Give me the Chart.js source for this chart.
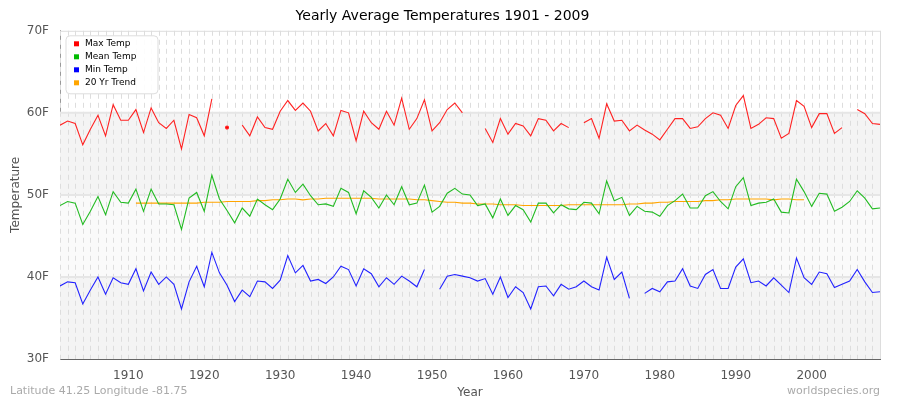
<!DOCTYPE html>
<html><head><meta charset="utf-8">
<script src="https://cdn.jsdelivr.net/npm/chart.js@4.4.1/dist/chart.umd.min.js"></script>
<style>html,body{margin:0;padding:0;background:#fff}#w{width:900px;height:400px}</style>
</head><body><div id="w"><canvas id="c"></canvas></div>
<script>
const years = [];
for (let y = 1901; y <= 2009; y++) years.push(y);
const xTicks = [1910,1920,1930,1940,1950,1960,1970,1980,1990,2000];
const yTicks = [30,40,50,60,70];
const maxTemp = [
58.5,59.0,58.7,56.1,58.0,59.7,57.2,61.0,59.1,59.1,
60.4,57.6,60.6,58.8,58.1,59.1,55.6,59.8,59.4,57.2,
61.7,null,58.2,null,58.5,57.2,59.5,58.2,58.0,60.2,
61.5,60.3,61.2,60.2,57.8,58.7,57.2,60.3,60.0,56.6,
60.2,58.8,58.0,60.2,58.5,61.8,58.0,59.3,61.6,57.8,
58.8,60.4,61.2,60.0,null,null,58.1,56.4,59.3,57.4,
58.7,58.4,57.2,59.3,59.1,57.8,58.7,58.2,null,58.8,
59.3,56.9,61.1,59.0,59.1,57.8,58.5,57.9,57.4,56.7,
58.0,59.3,59.3,58.1,58.3,59.3,60.0,59.7,58.1,60.9,
62.1,58.1,58.6,59.4,59.3,56.9,57.5,61.5,60.8,58.2,
59.9,59.9,57.5,58.2,null,60.4,59.9,58.7,58.6];
const meanTemp = [
48.7,49.2,49.0,46.4,48.0,49.8,47.6,50.4,49.1,49.0,
50.7,48.0,50.7,48.9,48.9,48.8,45.8,49.6,50.3,48.0,
52.4,49.5,48.1,46.6,48.4,47.4,49.5,48.8,48.2,49.5,
51.9,50.3,51.3,49.9,48.8,48.9,48.6,50.8,50.3,47.7,
50.5,49.7,48.4,50.0,48.8,51.0,48.8,49.0,51.2,47.9,
48.6,50.2,50.8,50.1,50.0,48.7,48.9,47.2,49.5,47.5,
48.7,48.2,46.7,49.0,49.0,47.8,48.8,48.3,48.2,49.1,
49.0,47.7,51.7,49.3,49.7,47.5,48.6,48.0,47.9,47.4,
48.7,49.3,50.1,48.4,48.4,49.9,50.4,49.2,48.3,51.0,
52.1,48.7,49.0,49.1,49.5,47.9,47.8,51.9,50.4,48.6,
50.2,50.1,48.0,48.5,49.2,50.5,49.6,48.3,48.4];
const minTemp = [
38.9,39.4,39.3,36.7,38.4,40.0,37.9,39.9,39.3,39.1,
41.0,38.3,40.6,39.1,40.0,39.1,36.1,39.4,41.3,38.8,
43.0,40.5,39.0,37.0,38.4,37.6,39.5,39.4,38.6,39.6,
42.6,40.5,41.4,39.5,39.7,39.2,40.0,41.3,40.9,38.9,
41.0,40.4,38.8,39.9,39.1,40.1,39.5,38.8,40.9,null,
38.5,40.1,40.3,40.1,39.9,39.5,39.8,37.9,40.0,37.5,
38.8,38.1,36.1,38.8,38.9,37.7,39.1,38.5,38.8,39.5,
38.8,38.4,42.4,39.7,40.6,37.4,null,38.0,38.6,38.2,
39.4,39.5,41.0,38.9,38.6,40.3,40.9,38.6,38.6,41.2,
42.2,39.3,39.5,38.9,39.9,39.0,38.1,42.3,39.9,39.1,
40.6,40.4,38.7,39.1,39.5,40.9,39.4,38.1,38.2];
const trend = [
null,null,null,null,null,null,null,null,null,null,
49.0,49.0,49.0,49.0,49.0,49.0,49.0,49.0,49.0,49.1,
49.1,49.1,49.2,49.2,49.2,49.2,49.3,49.3,49.4,49.4,
49.5,49.5,49.4,49.5,49.5,49.6,49.6,49.6,49.6,49.6,
49.6,49.6,49.5,49.5,49.5,49.5,49.5,49.4,49.4,49.3,
49.2,49.1,49.1,49.0,49.0,48.9,48.9,48.9,48.8,48.8,
48.8,48.7,48.7,48.7,48.7,48.7,48.7,48.8,48.8,48.8,
48.8,48.8,48.8,48.8,48.8,48.9,48.9,49.0,49.0,49.1,
49.1,49.2,49.2,49.2,49.2,49.3,49.3,49.4,49.4,49.5,
49.5,49.5,49.5,49.5,49.4,49.5,49.5,49.4,49.4,null,
null,null,null,null,null,null,null,null,null];

const toPts = arr => arr.map((v,i)=>({x:years[i], y:v}));

const bg = {
  id:'bg',
  beforeDatasetsDraw(ch){
    const {ctx, chartArea:a, scales:{x,y}} = ch;
    ctx.save();
    const band=(lo,hi,c)=>{ctx.fillStyle=c;const t=y.getPixelForValue(hi),b=y.getPixelForValue(lo);ctx.fillRect(a.left,t,a.right-a.left,b-t);};
    band(50,60,'#f4f4f4'); band(40,50,'#fafafa'); band(30,40,'#f4f4f4');
    ctx.strokeStyle='#dddddd'; ctx.lineWidth=1; ctx.setLineDash([5,4]);
    years.forEach(yr=>{const px=Math.round(x.getPixelForValue(yr))+0.5;ctx.beginPath();ctx.moveTo(px,a.top);ctx.lineTo(px,a.bottom);ctx.stroke();});
    ctx.setLineDash([]); ctx.strokeStyle='#e6e6e6'; ctx.lineWidth=2;
    [40,50,60].forEach(v=>{const py=y.getPixelForValue(v);ctx.beginPath();ctx.moveTo(a.left,py);ctx.lineTo(a.right,py);ctx.stroke();});
    ctx.lineWidth=1; ctx.strokeStyle='#dddddd';
    ctx.beginPath();ctx.moveTo(a.left,a.top+0.5);ctx.lineTo(a.right+0.5,a.top+0.5);ctx.lineTo(a.right+0.5,a.bottom);ctx.stroke();
    ctx.restore();
  },
  afterDraw(ch){
    const {ctx}=ch; ctx.save();
    ctx.font='11px "DejaVu Sans"'; ctx.fillStyle='#aaaaaa';
    ctx.textAlign='left'; ctx.fillText('Latitude 41.25 Longitude -81.75',10,394);
    ctx.textAlign='right'; ctx.fillText('worldspecies.org',880,394);
    ctx.restore();
  }
};

new Chart(document.getElementById('c'),{
  type:'line',
  data:{datasets:[
    {label:'Max Temp',data:toPts(maxTemp),borderColor:'#ff2222',backgroundColor:'#ff0000'},
    {label:'Mean Temp',data:toPts(meanTemp),borderColor:'#22bb22',backgroundColor:'#00bb00'},
    {label:'Min Temp',data:toPts(minTemp),borderColor:'#2222ff',backgroundColor:'#0000ff'},
    {label:'20 Yr Trend',data:toPts(trend),borderColor:'#ffa500',backgroundColor:'#ffa500'}
  ].map(d=>Object.assign(d,{borderWidth:1.1,pointRadius:ctx=>{const a=ctx.dataset.data,i=ctx.dataIndex;if(!a[i]||a[i].y==null)return 0;const p=a[i-1],n=a[i+1];return ((!p||p.y==null)&&(!n||n.y==null))?1.5:0;},pointHoverRadius:0,spanGaps:false,tension:0}))},
  options:{
    responsive:true,maintainAspectRatio:false,animation:false,
    layout:{padding:{left:5,right:20,top:0,bottom:0}},
    plugins:{
      title:{display:true,text:'Yearly Average Temperatures 1901 - 2009',color:'#000',font:{family:'DejaVu Sans',size:14,weight:'normal'},padding:{top:8,bottom:6}},
      legend:{display:false},
      tooltip:{enabled:false}
    },
    scales:{
      x:{type:'linear',min:1901,max:2009,
        afterBuildTicks:s=>{s.ticks=xTicks.map(v=>({value:v}));},
        afterFit:s=>{s.height=41;},
        grid:{display:false},border:{color:'#666'},
        ticks:{color:'#555',font:{family:'DejaVu Sans',size:12},maxRotation:0,autoSkip:false,padding:2,callback:v=>String(v)},
        title:{display:true,text:'Year',color:'#555',font:{family:'DejaVu Sans',size:12},padding:{top:-2,bottom:0}}},
      y:{min:30,max:70,
        afterBuildTicks:s=>{s.ticks=yTicks.map(v=>({value:v}));},
        afterFit:s=>{s.width=55;},
        grid:{display:false},border:{color:'#999'},
        ticks:{color:'#555',font:{family:'DejaVu Sans',size:12},callback:v=>v+'F'},
        title:{display:true,text:'Temperature',color:'#555',font:{family:'DejaVu Sans',size:12}}}
    }
  },
  plugins:[bg,{
    id:'lg',
    afterDatasetsDraw(ch){
      const {ctx,chartArea:a}=ch; ctx.save();
      const x0=a.left+6,y0=a.top+5,w=92,h=58;
      ctx.fillStyle='rgba(255,255,255,0.9)';ctx.strokeStyle='#dddddd';
      ctx.beginPath();ctx.roundRect(x0,y0,w,h,4);ctx.fill();ctx.stroke();
      ctx.font='9px "DejaVu Sans"';ctx.textBaseline='middle';ctx.textAlign='left';
      ch.data.datasets.forEach((d,i)=>{const yy=y0+8+i*13;ctx.fillStyle=d.backgroundColor;ctx.fillRect(x0+8,yy-2.5,5,5);ctx.fillStyle='#000';ctx.fillText(d.label,x0+19,yy);});
      ctx.restore();
    }
  }]
});
</script></body></html>
